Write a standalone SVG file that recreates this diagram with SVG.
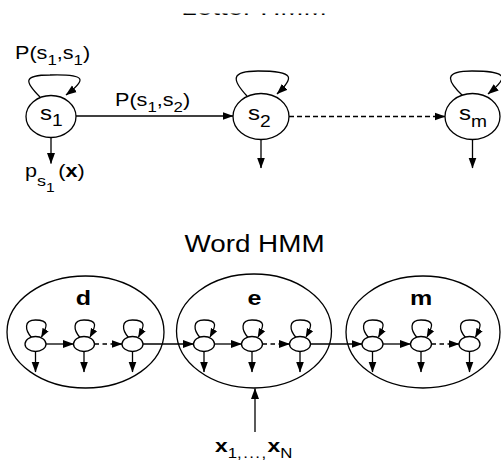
<svg xmlns="http://www.w3.org/2000/svg" width="501" height="461" viewBox="0 0 501 461">
<style>
text{font-family:"Liberation Sans",Arial,Helvetica,sans-serif;fill:#000}
.lbl{font-size:18px}
.sub{font-size:14px}
.nl{font-size:20px}
.nsub{font-size:16px}
.b{font-weight:bold}
.title{font-size:23px}
.st{fill:#fff;stroke:#000;stroke-width:1.3}
.ln{fill:none;stroke:#000;stroke-width:1.3}
.dash{stroke-dasharray:5 3}
.dsm{stroke-dasharray:4.5 3.5}
</style>
<defs>
<marker id="ah" markerUnits="userSpaceOnUse" markerWidth="11" markerHeight="9" viewBox="0 0 11 8" refX="10.5" refY="4" orient="auto"><path d="M0,0 L11,4 L0,8 z" fill="#000"/></marker>
<marker id="ahs" markerUnits="userSpaceOnUse" markerWidth="9" markerHeight="8" viewBox="0 0 9 7" refX="8.5" refY="3.5" orient="auto"><path d="M0,0 L9,3.5 L0,7 z" fill="#000"/></marker>
<clipPath id="tc"><rect x="0" y="13.6" width="501" height="1.3"/></clipPath>
</defs>
<rect width="501" height="461" fill="#fff"/>

<g id="title-letter" clip-path="url(#tc)">
<text class="title" text-anchor="middle" transform="translate(254,15) scale(1.21,1)">Letter HMM</text>
</g>

<g id="connectors">
<path class="ln" marker-end="url(#ah)" d="M40,97 C25,82 22,75 50,75 C88,74 86,80 66,95"/>
<path class="ln" marker-end="url(#ah)" d="M247,96 C232,80 230,71 258,71 C296,71 294,78 277,94"/>
<path class="ln" marker-end="url(#ah)" d="M463,96 C446,80 444,71 472,71 C510,71 508,78 488,94"/>
<line class="ln" marker-end="url(#ah)" x1="76" y1="116" x2="233" y2="116"/>
<line class="ln dash" marker-end="url(#ah)" x1="289" y1="116.5" x2="445" y2="116.5"/>
<line class="ln" marker-end="url(#ah)" x1="51" y1="137.5" x2="51" y2="163.5"/>
<line class="ln" marker-end="url(#ah)" x1="261" y1="139.5" x2="261" y2="168"/>
<line class="ln" marker-end="url(#ah)" x1="472.5" y1="139.5" x2="472.5" y2="168"/>

<line class="ln" marker-end="url(#ah)" x1="46" y1="344" x2="73.5" y2="344"/>
<line class="ln dsm" marker-end="url(#ah)" x1="94.5" y1="344" x2="122" y2="344"/>
<line class="ln" marker-end="url(#ah)" x1="143" y1="344" x2="193.5" y2="344"/>
<line class="ln" marker-end="url(#ah)" x1="214.5" y1="344" x2="241.5" y2="344"/>
<line class="ln dsm" marker-end="url(#ah)" x1="262.5" y1="344" x2="289.5" y2="344"/>
<line class="ln" marker-end="url(#ah)" x1="310.5" y1="344" x2="362" y2="344"/>
<line class="ln" marker-end="url(#ah)" x1="383" y1="344" x2="410.5" y2="344"/>
<line class="ln dsm" marker-end="url(#ah)" x1="431.5" y1="344" x2="459" y2="344"/>

<g id="small-loops">
<path class="ln" marker-end="url(#ahs)" d="M31.5,337.5 C25,330 23.5,320 35.5,320 C49.5,320 47.5,326 41.5,337"/>
<path class="ln" marker-end="url(#ahs)" d="M80,337.5 C73.5,330 72,320 84,320 C98,320 96,326 90,337"/>
<path class="ln" marker-end="url(#ahs)" d="M128.5,337.5 C122,330 120.5,320 132.5,320 C146.5,320 144.5,326 138.5,337"/>
<path class="ln" marker-end="url(#ahs)" d="M200,337.5 C193.5,330 192,320 204,320 C218,320 216,326 210,337"/>
<path class="ln" marker-end="url(#ahs)" d="M248,337.5 C241.5,330 240,320 252,320 C266,320 264,326 258,337"/>
<path class="ln" marker-end="url(#ahs)" d="M296,337.5 C289.5,330 288,320 300,320 C314,320 312,326 306,337"/>
<path class="ln" marker-end="url(#ahs)" d="M368.5,337.5 C362,330 360.5,320 372.5,320 C386.5,320 384.5,326 378.5,337"/>
<path class="ln" marker-end="url(#ahs)" d="M417,337.5 C410.5,330 409,320 421,320 C435,320 433,326 427,337"/>
<path class="ln" marker-end="url(#ahs)" d="M465.5,337.5 C459,330 457.5,320 469.5,320 C483.5,320 481.5,326 475.5,337"/>
</g>
<g id="small-emissions">
<line class="ln" marker-end="url(#ah)" x1="35.5" y1="351.5" x2="35.5" y2="372"/>
<line class="ln" marker-end="url(#ah)" x1="84" y1="351.5" x2="84" y2="372"/>
<line class="ln" marker-end="url(#ah)" x1="132.5" y1="351.5" x2="132.5" y2="372"/>
<line class="ln" marker-end="url(#ah)" x1="204" y1="351.5" x2="204" y2="372"/>
<line class="ln" marker-end="url(#ah)" x1="252" y1="351.5" x2="252" y2="372"/>
<line class="ln" marker-end="url(#ah)" x1="300" y1="351.5" x2="300" y2="372"/>
<line class="ln" marker-end="url(#ah)" x1="372.5" y1="351.5" x2="372.5" y2="372"/>
<line class="ln" marker-end="url(#ah)" x1="421" y1="351.5" x2="421" y2="372"/>
<line class="ln" marker-end="url(#ah)" x1="469.5" y1="351.5" x2="469.5" y2="372"/>
</g>
<line class="ln" marker-end="url(#ah)" x1="255" y1="432" x2="255" y2="388.5"/>
</g>

<g id="label-p11">
<text class="lbl" transform="translate(15,58.5) scale(1.2,1)">P(s<tspan class="sub" dy="6">1</tspan><tspan dy="-6">,s</tspan><tspan class="sub" dy="6">1</tspan><tspan dy="-6">)</tspan></text>
</g>
<g id="label-p12">
<text class="lbl" transform="translate(115,105.5) scale(1.2,1)">P(s<tspan class="sub" dy="6">1</tspan><tspan dy="-6">,s</tspan><tspan class="sub" dy="6">2</tspan><tspan dy="-6">)</tspan></text>
</g>
<g id="label-px">
<text class="lbl" transform="translate(25,177) scale(1.2,1)">p<tspan style="font-size:15px" dy="9">s</tspan><tspan style="font-size:13px" dy="6">1</tspan><tspan dy="-15" dx="3">(</tspan><tspan class="b">x</tspan>)</text>
</g>

<g id="node-s1">
<ellipse class="st" cx="51" cy="116.5" rx="25" ry="21"/>
<text class="nl" transform="translate(40,119.5) scale(1.2,1)">s<tspan class="nsub" dy="6">1</tspan></text>
</g>
<g id="node-s2">
<ellipse class="st" cx="261" cy="116.5" rx="28" ry="23"/>
<text class="nl" transform="translate(248,120) scale(1.2,1)">s<tspan class="nsub" dy="7">2</tspan></text>
</g>
<g id="node-sm">
<ellipse class="st" cx="472.5" cy="116.5" rx="27.5" ry="23"/>
<text class="nl" transform="translate(459,120) scale(1.2,1)">s<tspan class="nsub" dy="7">m</tspan></text>
</g>

<g id="title-word">
<text class="title" text-anchor="middle" transform="translate(254.5,252) scale(1.21,1)">Word HMM</text>
</g>

<g id="word-d">
<ellipse class="ln" cx="85.5" cy="332" rx="78.5" ry="56"/>
<text class="nl b" text-anchor="middle" transform="translate(83.5,305) scale(1.25,1)">d</text>
<ellipse class="st" cx="35.5" cy="344" rx="10.5" ry="7.5"/>
<ellipse class="st" cx="84" cy="344" rx="10.5" ry="7.5"/>
<ellipse class="st" cx="132.5" cy="344" rx="10.5" ry="7.5"/>
</g>
<g id="word-e">
<ellipse class="ln" cx="254" cy="331" rx="77.5" ry="57"/>
<text class="nl b" text-anchor="middle" transform="translate(254.5,305) scale(1.25,1)">e</text>
<ellipse class="st" cx="204" cy="344" rx="10.5" ry="7.5"/>
<ellipse class="st" cx="252" cy="344" rx="10.5" ry="7.5"/>
<ellipse class="st" cx="300" cy="344" rx="10.5" ry="7.5"/>
</g>
<g id="word-m">
<ellipse class="ln" cx="423" cy="332" rx="77" ry="56"/>
<text class="nl b" text-anchor="middle" transform="translate(421,305) scale(1.25,1)">m</text>
<ellipse class="st" cx="372.5" cy="344" rx="10.5" ry="7.5"/>
<ellipse class="st" cx="421" cy="344" rx="10.5" ry="7.5"/>
<ellipse class="st" cx="469.5" cy="344" rx="10.5" ry="7.5"/>
</g>

<g id="input-x">
<text style="font-size:19px" transform="translate(215,452) scale(1.2,1)"><tspan class="b">x</tspan><tspan class="sub" dy="6">1</tspan><tspan class="sub" style="letter-spacing:1.2px">,...,</tspan><tspan class="b" dy="-6">x</tspan><tspan class="sub" dy="6">N</tspan></text>
</g>
</svg>
